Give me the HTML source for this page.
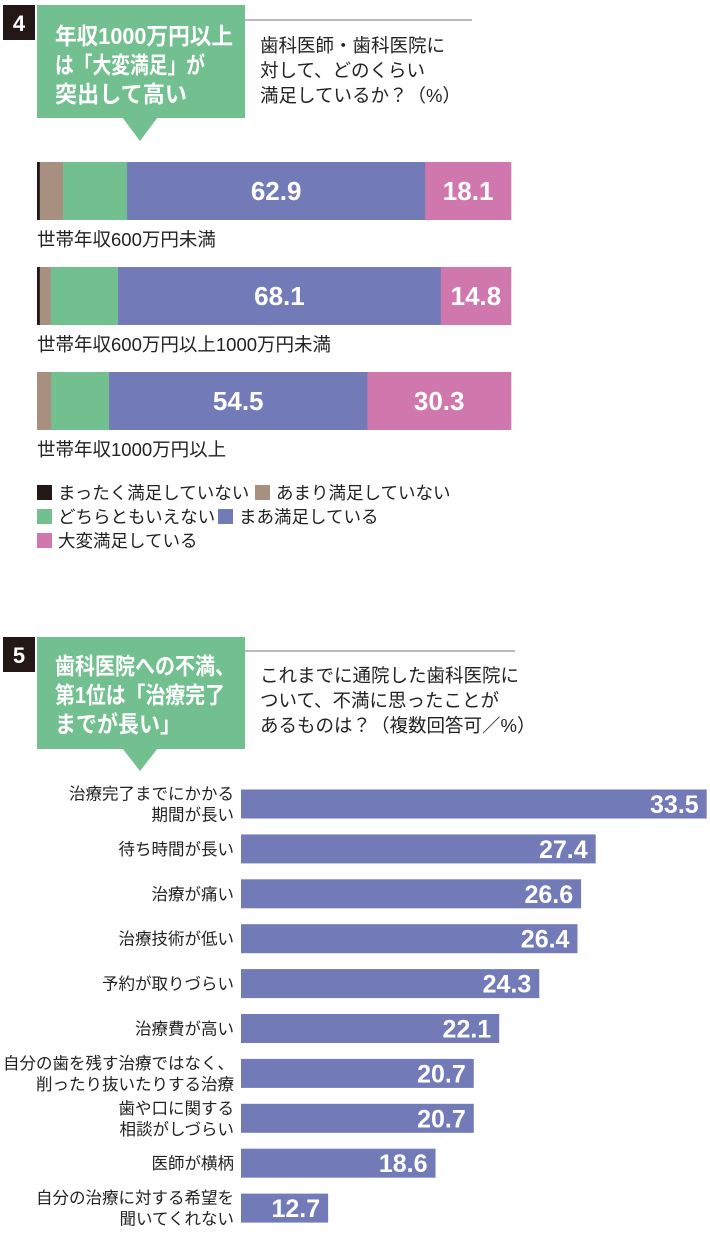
<!DOCTYPE html>
<html><head><meta charset="utf-8">
<style>
html,body{margin:0;padding:0;background:#fff;}
body{width:710px;height:1239px;overflow:hidden;font-family:"Liberation Sans","Noto Sans CJK JP",sans-serif;}
svg text{font-family:"Liberation Sans","Noto Sans CJK JP",sans-serif;}
</style></head><body>
<svg id="svg" width="710" height="1239" viewBox="0 0 710 1239">
  <g>
    <rect x="3" y="5" width="32" height="35" fill="#231815"/>
    <text x="19" y="31" fill="#fff" font-size="22" font-weight="bold" text-anchor="middle">4</text>
    <rect x="37" y="5" width="208" height="113" fill="#72c08f"/>
    <polygon points="122,117 158,117 140,141" fill="#72c08f"/>
    <text fill="#fff" font-size="23" font-weight="bold">
      <tspan x="55" y="44" textLength="178" lengthAdjust="spacingAndGlyphs">年収1000万円以上</tspan><tspan x="55" y="73" textLength="150" lengthAdjust="spacingAndGlyphs">は「大変満足」が</tspan><tspan x="55" y="102" textLength="132" lengthAdjust="spacingAndGlyphs">突出して高い</tspan></text>
    <line x1="245" y1="20" x2="472" y2="20" stroke="#777" stroke-width="1"/>
    <text fill="#222" font-size="18.5">
      <tspan x="260" y="52">歯科医師・歯科医院に</tspan><tspan x="260" y="77">対して、どのくらい</tspan><tspan x="260" y="102">満足しているか？（%）</tspan></text>
  </g>
  <g id="chart4"></g>
  <g id="legend4"></g>

  <g>
    <rect x="3" y="637" width="32" height="35" fill="#231815"/>
    <text x="19" y="663" fill="#fff" font-size="22" font-weight="bold" text-anchor="middle">5</text>
    <rect x="37" y="637" width="208" height="112" fill="#72c08f"/>
    <polygon points="122,748 158,748 140,771" fill="#72c08f"/>
    <text fill="#fff" font-size="23" font-weight="bold">
      <tspan x="55" y="674" textLength="180" lengthAdjust="spacingAndGlyphs">歯科医院への不満、</tspan><tspan x="55" y="703" textLength="170" lengthAdjust="spacingAndGlyphs">第1位は「治療完了</tspan><tspan x="55" y="732" textLength="126" lengthAdjust="spacingAndGlyphs">までが長い」</tspan></text>
    <line x1="245" y1="651" x2="515" y2="651" stroke="#777" stroke-width="1"/>
    <text fill="#222" font-size="18.5">
      <tspan x="260" y="682">これまでに通院した歯科医院に</tspan><tspan x="260" y="707">ついて、不満に思ったことが</tspan><tspan x="260" y="732">あるものは？（複数回答可／%）</tspan></text>
  </g>
  <g id="chart5"></g>
</svg>
<script>
// Chart 4 data
const groups4 = ["世帯年収600万円未満","世帯年収600万円以上1000万円未満","世帯年収1000万円以上"];
const seriesNames4 = ["まったく満足していない","あまり満足していない","どちらともいえない","まあ満足している","大変満足している"];
const veryUnsat = [0.6, 0.6, 0];
const notSat = [4.9, 2.3, 3.0];
const neutral = [13.5, 14.2, 12.2];
const fairlySat = [62.9, 68.1, 54.5];
const verySat = [18.1, 14.8, 30.3];
const shownLabels4 = [3, 4];

// Chart 5 data
const categories5 = [["治療完了までにかかる","期間が長い"],["待ち時間が長い"],["治療が痛い"],["治療技術が低い"],["予約が取りづらい"],["治療費が高い"],["自分の歯を残す治療ではなく、","削ったり抜いたりする治療"],["歯や口に関する","相談がしづらい"],["医師が横柄"],["自分の治療に対する希望を","聞いてくれない"]];
const values5 = [33.5, 27.4, 26.6, 26.4, 24.3, 22.1, 20.7, 20.7, 18.6, 12.7];

const NS = "http://www.w3.org/2000/svg";
function mk(tag, attrs, parent){const e=document.createElementNS(NS,tag);for(const k in attrs)e.setAttribute(k,attrs[k]);parent.appendChild(e);return e;}

const colors4 = ["#231815","#a89080","#72c08f","#737ab8","#d077ae"];
const series4 = [veryUnsat, notSat, neutral, fairlySat, verySat];
const c4 = document.getElementById("chart4");
const x0 = 37, x1 = 511;
const xs4 = v => (x1 - x0) * v / 100;
const bandY = i => 162 + i * 105;
const barH4 = 58;
groups4.forEach((g, i) => {
  let acc = x0;
  const y = bandY(i);
  series4.forEach((s, j) => {
    const w = xs4(s[i]);
    if (w <= 0) return;
    const r = mk("rect", {x: acc, y: y, width: w + 0.3, height: barH4, fill: colors4[j]}, c4);
    
    
    if (shownLabels4.includes(j)) {
      const t = mk("text", {x: acc + w / 2, y: y + 38, fill: "#fff", "font-size": 26, "font-weight": "bold", "text-anchor": "middle"}, c4);
      t.textContent = s[i].toFixed(1);
      
      
    }
    acc += w;
  });
  const lab = mk("text", {x: 37, y: y + 84, fill: "#222", "font-size": 18.5}, c4);
  lab.textContent = g;
  
  
});
const lg = document.getElementById("legend4");
const legPos = [[37,492],[255,492],[37,516],[218,516],[37,540]];
seriesNames4.forEach((n, j) => {
  const [lx, ly] = legPos[j];
  const sq = mk("rect", {x: lx, y: ly - 7, width: 15, height: 15, fill: colors4[j]}, lg);
  
  
  const t = mk("text", {x: lx + 21, y: ly + 7, fill: "#222", "font-size": 17.5}, lg);
  t.textContent = n;
  
  
});

const c5 = document.getElementById("chart5");
const barStart5 = 241;
const xs5 = v => 97 + 18.2 * v;
const yc5 = i => 804 + i * 44.9;
const barH5 = 29;
values5.forEach((v, i) => {
  const yc = yc5(i);
  const xe = xs5(v);
  const r = mk("rect", {x: barStart5, y: yc - barH5 / 2, width: xe - barStart5, height: barH5, fill: "#737ab8"}, c5);
  
  
  const t = mk("text", {x: xe - 8, y: yc + 9, fill: "#fff", "font-size": 25, "font-weight": "bold", "text-anchor": "end"}, c5);
  t.textContent = v.toFixed(1);
  
  
  const lines = categories5[i];
  const lab = mk("text", {fill: "#222", "font-size": 16.5, "text-anchor": "end"}, c5);
  
  
  lines.forEach((ln, k) => {
    const ts = mk("tspan", {x: 234, y: yc + 6 + (k - (lines.length - 1) / 2) * 21}, lab);
    ts.textContent = ln;
  });
});
</script>
</body></html>
